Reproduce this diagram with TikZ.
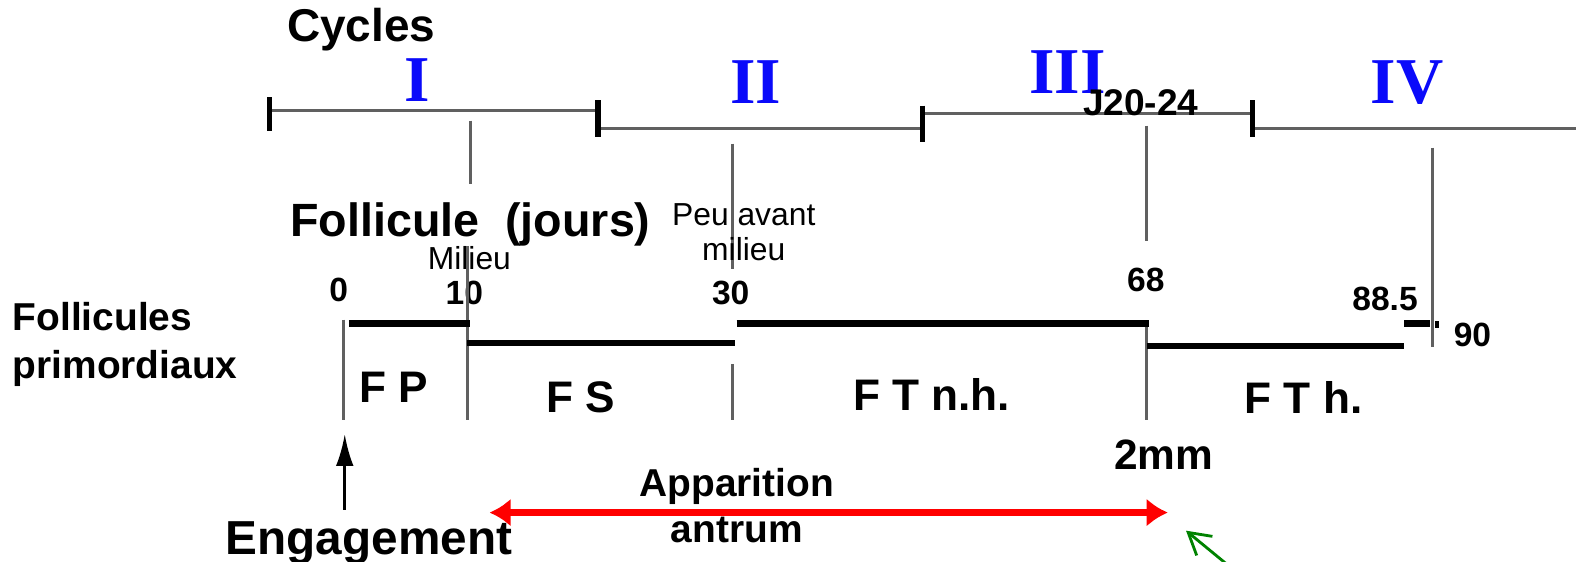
\documentclass[tikz,border=0pt]{standalone}
\usepackage{fontspec}
\setmainfont{Liberation Sans}
\newfontfamily\romfont{Liberation Serif}
\usetikzlibrary{arrows.meta}
\definecolor{bleucyc}{RGB}{10,10,250}
\definecolor{gristrait}{RGB}{96,96,96}
\definecolor{vertfl}{RGB}{0,130,0}
\tikzset{
  cyc/.style={draw=gristrait,line width=0.9pt},
  tic/.style={draw=black,line width=1.5pt},
  barre/.style={draw=black,line width=1.8pt},
  num/.style={inner sep=0pt,font=\bfseries\fontsize{9.5}{10}\selectfont},
  rom/.style={inner sep=0pt,text=bleucyc,font=\romfont\bfseries\fontsize{18.5}{20}\selectfont},
  stade/.style={inner sep=0pt,font=\bfseries\fontsize{12.5}{13}\selectfont},
  petit/.style={inner sep=0pt,font=\fontsize{9}{10}\selectfont,align=center},
  gras/.style={inner sep=0pt,font=\bfseries\fontsize{11}{13.5}\selectfont,align=center}
}
\begin{document}
\begin{tikzpicture}[x=0.01cm,y=-0.01cm]
\useasboundingbox (0,0) rectangle (1568,559);
% cycles
\node[inner sep=0pt,anchor=west,font=\bfseries\fontsize{13}{14}\selectfont](cycles) at (285,29){Cycles};
\node[rom](c1) at (415,80){I};
\node[rom](c2) at (752,82){II};
\node[rom](c3) at (1062,72){III};
\node[rom](c4) at (1400,82){IV};
\coordinate (t0) at (268,110);
\coordinate (t1) at (595,110);
\coordinate (t1b) at (595,128);
\coordinate (t2) at (918,128);
\coordinate (t2b) at (918,113);
\coordinate (t3) at (1246,113);
\coordinate (t3b) at (1246,128);
\coordinate (t4) at (1568,128);
\draw[cyc] (t0) -- (t1);
\draw[cyc] (t1b) -- (t2);
\draw[cyc] (t2b) -- (t3);
\draw[cyc] (t3b) -- (t4);
\draw[tic] (268,97) -- (268,130);
\draw[tic] (595,100) -- (595,136);
\draw[tic] (918,105) -- (918,141);
\draw[tic] (1246,100) -- (1246,136);
\node[inner sep=0pt,font=\bfseries\fontsize{10.5}{11}\selectfont](j20) at (1135,102){J20-24};
% reperes
\draw[cyc] (468,120) -- (468,183);
\draw[cyc] (729,143) -- (729,268);
\draw[cyc] (1141,125) -- (1141,240);
\draw[cyc] (1425,147) -- (1425,345);
% follicule
\node[inner sep=0pt,anchor=west,font=\bfseries\fontsize{13.2}{14}\selectfont](foll) at (288,223){Follicule\ \ (jours)};
\node[petit](mil) at (467,257){Milieu};
\node[petit](peu) at (740,231){Peu avant\\milieu};
\node[num](n0) at (337,288){0};
\node[num](n10) at (462,291){10};
\node[num](n30) at (727,291){30};
\node[num](n68) at (1140,279){68};
\node[num](n88) at (1378,297){88.5};
\node[num](n90) at (1465,333){90};
\node[gras,align=left,anchor=west](prim) at (12,343){Follicules\\primordiaux};
% stades
\draw[cyc] (342,318) -- (342,418);
\draw[cyc] (465,245) -- (465,418);
\draw[cyc] (729,362) -- (729,418);
\draw[cyc] (1141,322) -- (1141,418);
\draw[barre] (347,322) -- (468,322);
\draw[barre] (465,341) -- (731,341);
\draw[barre] (733,322) -- (1143,322);
\draw[barre] (1141,344) -- (1397,344);
\draw[barre] (1397,322) -- (1423,322);
\draw[barre] (1428,323) -- (1432,323);
\node[stade](fp) at (392,385){F P};
\node[stade](fs) at (578,395){F S};
\node[stade](ftnh) at (927,393){F T n.h.};
\node[stade](fth) at (1297,395){F T h.};
\node[inner sep=0pt,font=\bfseries\fontsize{12}{13}\selectfont](mm) at (1158,452){2mm};
% engagement et antrum
\node[inner sep=0pt,font=\bfseries\fontsize{13.5}{15}\selectfont](eng) at (367,540){Engagement};
\coordinate (engbas) at (343,507);
\coordinate (enghaut) at (343,432);
\draw[-{Latex[length=9pt,width=5pt]},line width=0.8pt] (engbas) -- (enghaut);
\node[gras,font=\bfseries\fontsize{11}{13}\selectfont](app) at (733,503){Apparition\\antrum};
\coordinate (antg) at (487,510);
\coordinate (antd) at (1162,510);
\draw[{Latex[length=6pt,width=8pt]}-{Latex[length=6pt,width=8pt]},red,line width=1.8pt] (antg) -- (antd);
\coordinate (vbas) at (1225,565);
\coordinate (vhaut) at (1180,528);
\draw[-{Straight Barb[length=6pt,width=7pt]},vertfl,line width=0.8pt] (vbas) -- (vhaut);
\end{tikzpicture}
\end{document}
